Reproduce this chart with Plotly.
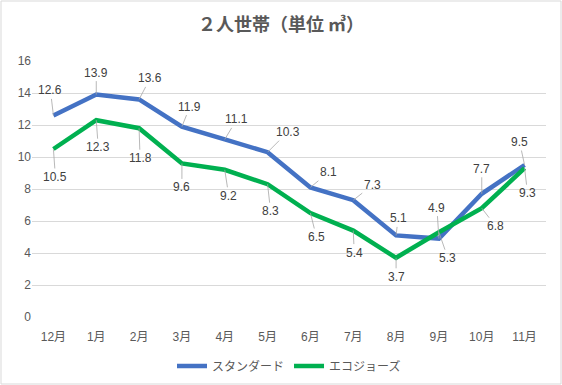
import plotly.graph_objects as go

months = ["12月", "1月", "2月", "3月", "4月", "5月", "6月", "7月", "8月", "9月", "10月", "11月"]
standard = [12.6, 13.9, 13.6, 11.9, 11.1, 10.3, 8.1, 7.3, 5.1, 4.9, 7.7, 9.5]
eco = [10.5, 12.3, 11.8, 9.6, 9.2, 8.3, 6.5, 5.4, 3.7, 5.3, 6.8, 9.3]
y_ticks = [0, 2, 4, 6, 8, 10, 12, 14, 16]

# label offsets (pixels) for the data callouts
std_off = [(-3, -25), (0, -22), (11, -21), (8, -20), (12, -20), (20, -20),
           (18, -15), (19, -15), (2, -17), (-2, -31), (0, -25), (-5, -23)]
eco_off = [(2, 28), (2, 27), (1, 30), (0, 24), (4, 26), (3, 27),
           (6, 24), (1, 22), (0, 19), (9, 26), (14, 18), (3, 25)]

FONT = "Liberation Sans, Noto Sans CJK JP, sans-serif"
BLUE = "#4472C4"
GREEN = "#00B050"

fig = go.Figure()
fig.add_trace(go.Scatter(x=months, y=standard, mode="lines", name="スタンダード",
                         line=dict(color=BLUE, width=4.5)))
fig.add_trace(go.Scatter(x=months, y=eco, mode="lines", name="エコジョーズ",
                         line=dict(color=GREEN, width=4.5)))

ann = []
for series, offs in ((standard, std_off), (eco, eco_off)):
    for m, v, (dx, dy) in zip(months, series, offs):
        ann.append(dict(x=m, y=v, xref="x", yref="y", text=f"{v:.1f}",
                        showarrow=True, arrowhead=0, arrowwidth=0.8,
                        arrowcolor="#a6a6a6", ax=dx, ay=dy, standoff=0,
                        font=dict(family=FONT, size=12, color="#404040")))

W, H = 562, 385
L, R, T, B = 32, 16, 61, 68
pw, ph = W - L - R, H - T - B

fig.update_layout(
    width=W, height=H,
    margin=dict(l=L, r=R, t=T, b=B, autoexpand=False),
    paper_bgcolor="white", plot_bgcolor="white",
    title=dict(text="<b>２人世帯（単位 ㎥）</b>", x=0.5, xanchor="center", y=1 - 25 / H, yanchor="middle",
               font=dict(family="Noto Sans CJK JP", size=18, color="#595959")),
    xaxis=dict(type="category", showgrid=False, zeroline=False, showline=False,
               ticks="outside", ticklen=9, tickcolor="rgba(0,0,0,0)",
               tickfont=dict(family=FONT, size=12, color="#595959"),
               range=[-0.5, 11.5]),
    yaxis=dict(range=[0, 16], tickvals=y_ticks, showgrid=True, gridcolor="#d9d9d9",
               gridwidth=1, zeroline=False, showline=False, ticks="",
               tickfont=dict(family=FONT, size=12, color="#595959")),
    legend=dict(orientation="h", x=0.5, xanchor="center", y=-(366 - 317) / ph,
                yanchor="middle", font=dict(family=FONT, size=12, color="#595959"),
                itemwidth=30),
    showlegend=True,
    hovermode=False,
    annotations=ann,
    shapes=[dict(type="rect", xref="paper", yref="paper",
                 x0=-(L - 1) / pw, x1=1 + (R - 1) / pw,
                 y0=-(B - 1) / ph, y1=1 + (T - 1) / ph,
                 line=dict(color="#d9d9d9", width=1), layer="below")],
)

fig.write_html("out.html", config={"displayModeBar": False},
               post_script="document.body.style.margin='0';document.body.style.padding='0';")
